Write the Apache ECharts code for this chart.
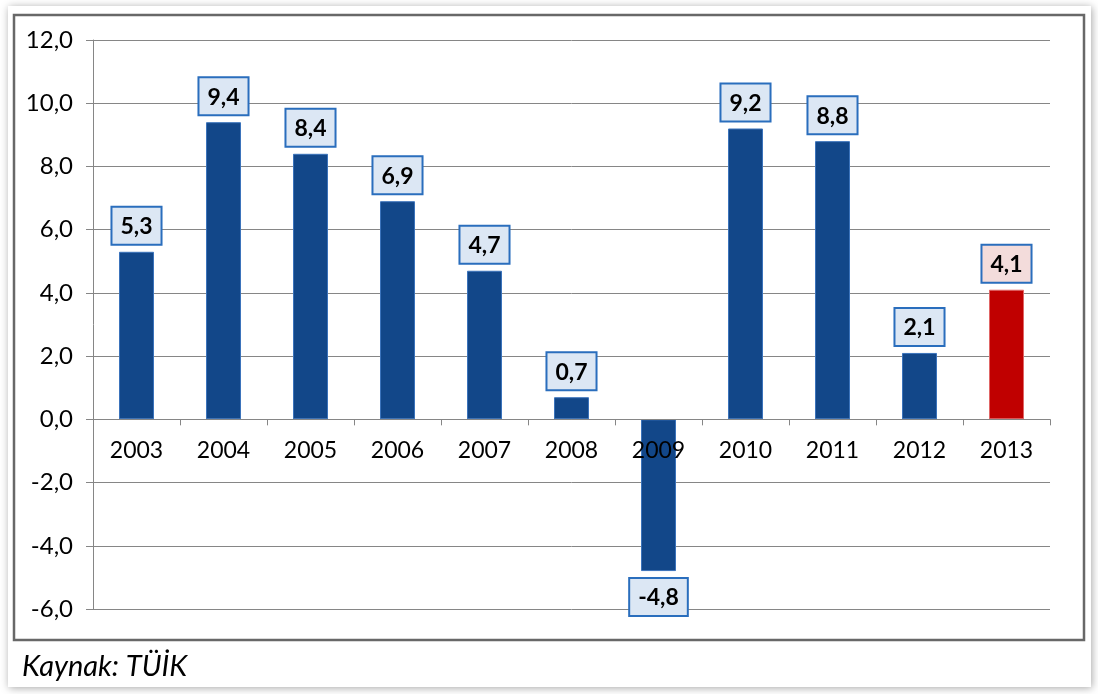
<!DOCTYPE html>
<html>
<head>
<meta charset="utf-8">
<script src="https://cdn.jsdelivr.net/npm/echarts@6/dist/echarts.min.js"></script>
<style>
html,body{margin:0;padding:0;background:#fff;}
#c{width:1098px;height:694px;}
</style>
</head>
<body>
<div id="c"></div>
<script>
const categories = ['2003','2004','2005','2006','2007','2008','2009','2010','2011','2012','2013'];
const values = [5.3, 9.4, 8.4, 6.9, 4.7, 0.7, -4.8, 9.2, 8.8, 2.1, 4.1];
const highlightYear = '2013';
const yTicks = {min: -6, max: 12, interval: 2};
const sourceText = 'Kaynak: TÜİK';

const fmt = v => v.toFixed(1).replace('.', ',');
const FONT = 'Lato';

const GRID = {left: 93, right: 48, top: 40, bottom: 85};
const plotH = 694 - GRID.top - GRID.bottom;
const zeroOffset = -plotH * (0 - yTicks.min) / (yTicks.max - yTicks.min);

const data = values.map((v, i) => {
  const hi = categories[i] === highlightYear;
  return {
    value: v,
    itemStyle: hi ? {color: '#c00000', borderColor: '#e06666', borderWidth: 1}
                  : {color: '#124789', borderColor: '#3b73bb', borderWidth: 1},
    label: {
      position: v < 0 ? 'bottom' : 'top',
      backgroundColor: hi ? '#f3dcdb' : '#dce7f4'
    }
  };
});

const chart = echarts.init(document.getElementById('c'), null, {renderer: 'canvas'});
chart.setOption({
  animation: false,
  textStyle: {fontFamily: FONT},
  graphic: [
    {type: 'rect', z: -10, shape: {x: 8, y: 6, width: 1083, height: 681},
     style: {fill: '#fff', shadowBlur: 8, shadowColor: 'rgba(0,0,0,0.35)', shadowOffsetX: 1, shadowOffsetY: 1}},
    {type: 'rect', z: -9, shape: {x: 14, y: 15, width: 1070, height: 625},
     style: {fill: '#fff', stroke: '#686868', lineWidth: 2.5}},
    {type: 'text', z: 10, left: 22, top: 652,
     style: {text: sourceText, fontFamily: FONT, fontStyle: 'italic', fontSize: 29, fill: '#000'}}
  ],
  grid: Object.assign({containLabel: false}, GRID),
  xAxis: {
    type: 'category',
    data: categories,
    z: 5,
    offset: zeroOffset,
    axisLine: {show: true, onZero: false, lineStyle: {color: '#868686', width: 1}},
    axisTick: {show: true, alignWithLabel: false, length: 6, lineStyle: {color: '#868686'}},
    axisLabel: {color: '#000', fontSize: 23, fontFamily: FONT, margin: 20},
    splitLine: {show: false}
  },
  yAxis: {
    type: 'value',
    min: yTicks.min, max: yTicks.max, interval: yTicks.interval,
    axisLine: {show: true, lineStyle: {color: '#868686', width: 1}},
    axisTick: {show: true, length: 7, lineStyle: {color: '#868686'}},
    axisLabel: {color: '#000', fontSize: 24, fontFamily: FONT, margin: 20, formatter: v => fmt(v)},
    splitLine: {show: true, lineStyle: {color: '#868686', width: 1}}
  },
  series: [{
    type: 'bar',
    data: data,
    barWidth: 35,
    label: {
      show: true,
      distance: 8,
      formatter: p => fmt(p.value),
      color: '#000',
      fontFamily: FONT,
      fontWeight: 'bold',
      fontSize: 23,
      lineHeight: 26,
      borderColor: '#2a6ebd',
      borderWidth: 2,
      padding: [6, 8, 4, 8]
    }
  }]
});
</script>
</body>
</html>
